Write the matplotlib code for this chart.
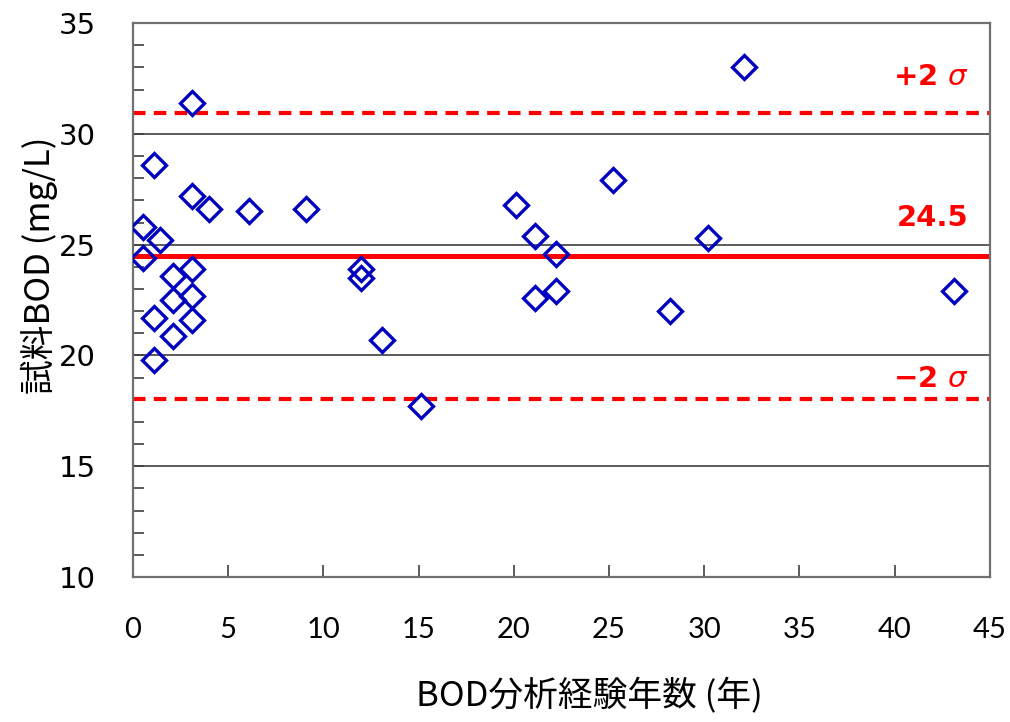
import matplotlib
matplotlib.use("Agg")
import matplotlib.pyplot as plt
from matplotlib.ticker import MultipleLocator

plt.rcParams['font.family'] = ['Noto Sans CJK JP', 'DejaVu Sans']

# BOD analysis experience (years) vs sample BOD (mg/L)
years = [0.5, 0.5, 1.4, 1.1, 3.1, 3.1, 4.0, 6.1, 9.1,
         1.1, 1.1, 2.1, 2.1, 2.1, 3.1, 3.1, 3.1,
         12.0, 12.0, 13.1, 15.1, 20.1, 21.1, 22.2, 21.1, 22.2,
         25.2, 28.2, 30.2, 32.1, 43.1]
bod = [25.8, 24.4, 25.2, 28.6, 31.4, 27.2, 26.6, 26.5, 26.6,
       21.7, 19.8, 23.6, 22.5, 20.9, 23.9, 22.7, 21.6,
       23.9, 23.5, 20.7, 17.7, 26.8, 25.4, 24.6, 22.6, 22.9,
       27.9, 22.0, 25.3, 33.0, 22.9]

mean_bod = 24.5
upper = 30.95
lower = 18.05
grid_vals = [15, 20, 25, 30]

fig = plt.figure(figsize=(10.1, 7.22), dpi=100)
ax = fig.add_axes([0.1317, 0.2008, 0.8483, 0.7672])

for g in grid_vals:
    ax.axhline(g, color='#404040', lw=1.2, zorder=1)

ax.axhline(mean_bod, color='#ff0000', lw=3.6, zorder=2)
ax.axhline(upper, color='#ff0000', lw=3.0, ls=(0, (3, 2)), zorder=2)
ax.axhline(lower, color='#ff0000', lw=3.0, ls=(0, (3, 2)), zorder=2)

ax.plot(years, bod, ls='none', marker='D', ms=12.5, mfc='none',
        mec='#0000c0', mew=2.4, zorder=3)

red_text = dict(color='#ff0000', fontsize=21, fontweight='bold', ha='right',
                va='center', family=['DejaVu Sans'])
ax.text(43.9, 32.55, r'+2 $\sigma$', **red_text)
ax.text(43.9, 26.2, '24.5', **red_text)
ax.text(43.9, 18.95, r'−2 $\sigma$', **red_text)

ax.set_xlim(0, 45)
ax.set_ylim(10, 35)
ax.xaxis.set_major_locator(MultipleLocator(5))
ax.yaxis.set_major_locator(MultipleLocator(5))
ax.yaxis.set_minor_locator(MultipleLocator(1))
ax.tick_params(axis='x', which='major', direction='in', length=9, width=1.2,
               color='#404040', pad=29, labelsize=21)
ax.tick_params(axis='y', which='both', direction='in', length=8, width=1.2,
               color='#404040', pad=27, labelsize=21)
for lbl in ax.get_xticklabels():
    lbl.set_family(['Lato'])
for lbl in ax.get_yticklabels():
    lbl.set_family(['DejaVu Sans'])

for s in ax.spines.values():
    s.set_color('#707070')
    s.set_linewidth(1.6)

ax.set_xlabel('BOD分析経験年数 (年)', fontsize=25)
ax.set_ylabel('試料BOD (mg/L)', fontsize=25)
ax.xaxis.set_label_coords(0.533, -0.183)
ax.yaxis.set_label_coords(-0.088, 0.563)

fig.savefig('out.png', dpi=100)
